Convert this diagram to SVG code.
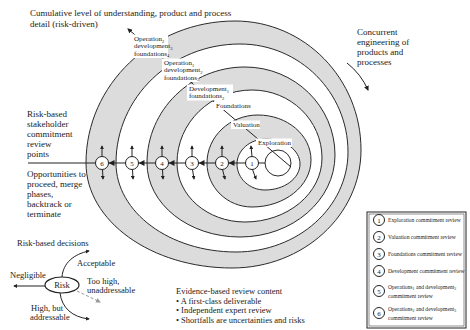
<svg xmlns="http://www.w3.org/2000/svg" width="470" height="330" viewBox="0 0 470 330">
<style>
text{font-family:"Liberation Serif","Times New Roman",serif;fill:#222}
.t9{font-size:9px}
.t85{font-size:8.5px}
.lab{font-size:7px}
.leg{font-size:5.6px}
.num{font-size:7px;text-anchor:middle}
.ring{stroke:#2a2a2a;stroke-width:1}
.g{fill:#dcdcdc}
.w{fill:#fff}
.ln{stroke:#222;stroke-width:1;fill:none}
.nd{fill:#fff;stroke:#222;stroke-width:1}
.box{fill:#fff;stroke:none}
</style>
<defs>
<marker id="ah" viewBox="0 0 10 10" refX="8" refY="5" markerWidth="5" markerHeight="5" orient="auto"><path d="M0,0 L10,5 L0,10 z" fill="#222"/></marker>
<marker id="ahs" viewBox="0 0 10 10" refX="8" refY="5" markerWidth="4" markerHeight="4" orient="auto"><path d="M0,0 L10,5 L0,10 z" fill="#222"/></marker>
<marker id="ahg" viewBox="0 0 10 10" refX="8" refY="5" markerWidth="5" markerHeight="5" orient="auto"><path d="M0,0 L10,5 L0,10 z" fill="#999"/></marker>
</defs>

<g id="spiral">
<path class="ring g" d="M86,163 C86,84.6 152.7,21 235,21 C304.6,21 361,78.8 361,150 C361,215.2 303.2,268 232,268 C151.4,268 86,221 86,163Z"/>
<path class="ring w" d="M116,163 C116,97.3 171.5,44 240,44 C299.6,44 348,92.4 348,152 C348,207.2 297.9,252 236,252 C169.7,252 116,212.2 116,163Z"/>
<path class="ring g" d="M147,163 C147,110 190.9,67 245,67 C294.7,67 335,106.4 335,155 C335,200.3 292.5,237 240,237 C188.6,237 147,203.9 147,163Z"/>
<path class="ring w" d="M177,163 C177,122.7 210.6,90 252,90 C290.7,90 322,120.4 322,158 C322,193.3 287.5,222 245,222 C207.4,222 177,195.6 177,163Z"/>
<path class="ring g" d="M207,163 C207,136.5 229.8,115 258,115 C287.3,115 311,135.1 311,160 C311,186 284.6,207 252,207 C227.1,207 207,187.3 207,163Z"/>
<path class="ring w" d="M237,164 C237,150.2 250,139 266,139 C284.8,139 300,150.2 300,164 C300,178.4 284.3,190 265,190 C249.5,190 237,178.4 237,164Z"/>
<circle class="ring w" cx="278" cy="163" r="13"/>
</g>

<g id="connectors">
<line class="ln" x1="291" y1="167" x2="128" y2="29" marker-end="url(#ah)"/>
<line class="ln" x1="265" y1="163" x2="28" y2="163" stroke-width="1.2"/>
<g fill="#222">
<polygon points="228.5,163 234.5,160 234.5,166"/>
<polygon points="198.5,163 204.5,160 204.5,166"/>
<polygon points="168.5,163 174.5,160 174.5,166"/>
<polygon points="138.5,163 144.5,160 144.5,166"/>
<polygon points="108.5,163 114.5,160 114.5,166"/>
</g>
<g class="ln" marker-end="url(#ahs)">
<line x1="252" y1="156.5" x2="251" y2="146"/>
<line x1="252.5" y1="169.5" x2="256" y2="179"/>
<line x1="222" y1="156.5" x2="222" y2="146"/>
<line x1="222.5" y1="169.5" x2="225" y2="179"/>
<line x1="192" y1="156.5" x2="192" y2="146"/>
<line x1="192.5" y1="169.5" x2="194" y2="179"/>
<line x1="162" y1="156.5" x2="162" y2="146"/>
<line x1="162.5" y1="169.5" x2="163" y2="179"/>
<line x1="132" y1="156.5" x2="132" y2="146"/>
<line x1="132.5" y1="169.5" x2="133" y2="179"/>
<line x1="102" y1="156.5" x2="102" y2="146"/>
<line x1="102.5" y1="169.5" x2="103" y2="179"/>
</g>
<path class="ln" d="M347,63 Q361,74 368,90" marker-end="url(#ah)"/>
<line class="ln" x1="45" y1="286" x2="14" y2="286" stroke-width="2" marker-end="url(#ahs)"/>
<path class="ln" d="M62,277 C63,263 74,254 89,251" stroke-width="1.5" marker-end="url(#ahs)"/>
<path class="ln" d="M60,293 C62,308 72,317 89,319" stroke-width="1.5" marker-end="url(#ahs)"/>
<line x1="77" y1="291" x2="100" y2="302" stroke="#999" stroke-width="1" stroke-dasharray="3,2" marker-end="url(#ahg)"/>
</g>

<g id="review-nodes">
<g id="r1"><circle class="nd" cx="252" cy="163" r="6.5"/><text class="num" x="252" y="165.5">1</text></g>
<g id="r2"><circle class="nd" cx="222" cy="163" r="6.5"/><text class="num" x="222" y="165.5">2</text></g>
<g id="r3"><circle class="nd" cx="192" cy="163" r="6.5"/><text class="num" x="192" y="165.5">3</text></g>
<g id="r4"><circle class="nd" cx="162" cy="163" r="6.5"/><text class="num" x="162" y="165.5">4</text></g>
<g id="r5"><circle class="nd" cx="132" cy="163" r="6.5"/><text class="num" x="132" y="165.5">5</text></g>
<g id="r6"><circle class="nd" cx="102" cy="163" r="6.5"/><text class="num" x="102" y="165.5">6</text></g>
</g>

<g id="phase-labels">
<g id="l-op2"><rect class="box" x="132" y="34.5" width="36" height="23.5"/>
<text class="lab" x="134" y="41">Operation<tspan font-size="4.5" dy="1.5">2</tspan></text>
<text class="lab" x="134" y="48.3">development<tspan font-size="4.5" dy="1.5">3</tspan></text>
<text class="lab" x="134" y="55.6">foundations<tspan font-size="4.5" dy="1.5">4</tspan></text></g>
<g id="l-op1"><rect class="box" x="162" y="58.5" width="37" height="23.5"/>
<text class="lab" x="164" y="65">Operation<tspan font-size="4.5" dy="1.5">1</tspan></text>
<text class="lab" x="164" y="72.3">development<tspan font-size="4.5" dy="1.5">2</tspan></text>
<text class="lab" x="164" y="79.6">foundations<tspan font-size="4.5" dy="1.5">3</tspan></text></g>
<g id="l-dev"><rect class="box" x="187" y="84.5" width="46" height="16"/>
<text class="lab" x="189" y="91">Development<tspan font-size="4.5" dy="1.5">1</tspan></text>
<text class="lab" x="189" y="98.3">foundations<tspan font-size="4.5" dy="1.5">2</tspan></text></g>
<g id="l-fnd"><rect class="box" x="214" y="101.5" width="38" height="8.5"/><text class="lab" x="216" y="108">Foundations</text></g>
<g id="l-val"><rect class="box" x="231" y="120.5" width="29" height="8.5"/><text class="lab" x="233" y="127">Valuation</text></g>
<g id="l-exp"><rect class="box" x="256" y="138.5" width="36" height="8.5"/><text class="lab" x="258" y="145">Exploration</text></g>
</g>

<g id="annotations">
<text class="t9" x="30" y="16">Cumulative level of understanding, product and process</text>
<text class="t9" x="30" y="27">detail (risk-driven)</text>
<text class="t9" x="357" y="35">Concurrent</text>
<text class="t9" x="357" y="45">engineering of</text>
<text class="t9" x="357" y="55">products and</text>
<text class="t9" x="357" y="65">processes</text>
<text class="t9" x="27" y="117">Risk-based</text>
<text class="t9" x="27" y="127">stakeholder</text>
<text class="t9" x="27" y="137">commitment</text>
<text class="t9" x="27" y="147">review</text>
<text class="t9" x="27" y="157">points</text>
<text class="t9" x="27" y="177">Opportunities to</text>
<text class="t9" x="27" y="187">proceed, merge</text>
<text class="t9" x="27" y="197">phases,</text>
<text class="t9" x="27" y="207">backtrack or</text>
<text class="t9" x="27" y="217">terminate</text>
<text class="t85" x="17" y="246">Risk-based decisions</text>
<text class="t85" x="176" y="294">Evidence-based review content</text>
<text class="t85" x="176" y="303.5">• A first-class deliverable</text>
<text class="t85" x="176" y="313">• Independent expert review</text>
<text class="t85" x="176" y="322.5">• Shortfalls are uncertainties and risks</text>
</g>

<g id="risk">
<ellipse cx="62" cy="285" rx="17" ry="8" fill="#fff" stroke="#222" stroke-width="1.2"/>
<text class="t85" x="62" y="288" text-anchor="middle">Risk</text>
<text class="t85" x="10" y="278">Negligible</text>
<text class="t85" x="77" y="266">Acceptable</text>
<text class="t85" x="87" y="284">Too high,</text>
<text class="t85" x="87" y="293">unaddressable</text>
<text class="t85" x="31" y="311">High, but</text>
<text class="t85" x="30" y="320">addressable</text>
</g>

<g id="legend">
<rect x="367" y="212" width="99" height="116" fill="#fff" stroke="#222" stroke-width="1"/>
<rect x="369" y="214" width="95" height="112" fill="none" stroke="#222" stroke-width="0.5"/>
<g id="lg1"><circle class="nd" cx="379" cy="220" r="5.5"/><text class="num" x="379" y="222.5">1</text><text class="leg" x="388" y="222">Exploration commitment review</text></g>
<g id="lg2"><circle class="nd" cx="379" cy="237" r="5.5"/><text class="num" x="379" y="239.5">2</text><text class="leg" x="388" y="239">Valuation commitment review</text></g>
<g id="lg3"><circle class="nd" cx="379" cy="254" r="5.5"/><text class="num" x="379" y="256.5">3</text><text class="leg" x="388" y="256">Foundations commitment review</text></g>
<g id="lg4"><circle class="nd" cx="379" cy="271" r="5.5"/><text class="num" x="379" y="273.5">4</text><text class="leg" x="388" y="273">Development commitment review</text></g>
<g id="lg5"><circle class="nd" cx="379" cy="291" r="5.5"/><text class="num" x="379" y="293.5">5</text>
<text class="leg" x="388" y="289">Operations<tspan font-size="3.9" dy="1.3">1</tspan><tspan dy="-1.3"> and development</tspan><tspan font-size="3.9" dy="1.3">2</tspan></text>
<text class="leg" x="388" y="297.5">commitment review</text></g>
<g id="lg6"><circle class="nd" cx="379" cy="313" r="5.5"/><text class="num" x="379" y="315.5">6</text>
<text class="leg" x="388" y="311">Operations<tspan font-size="3.9" dy="1.3">2</tspan><tspan dy="-1.3"> and development</tspan><tspan font-size="3.9" dy="1.3">3</tspan></text>
<text class="leg" x="388" y="319.5">commitment review</text></g>
</g>
</svg>
